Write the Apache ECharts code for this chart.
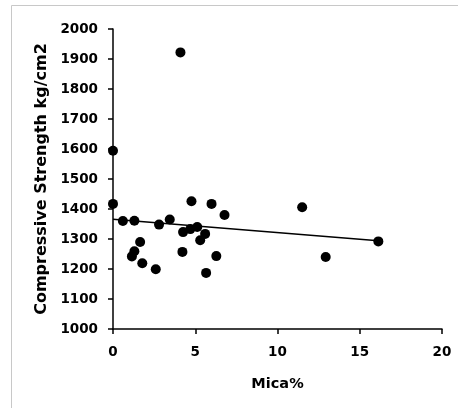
<!DOCTYPE html>
<html>
<head>
<meta charset="utf-8">
<script src="https://cdn.jsdelivr.net/npm/echarts@6/dist/echarts.min.js"></script>
<style>
html,body{margin:0;padding:0;background:#fff;}
#chart{width:458px;height:411px;}
</style>
</head>
<body>
<div id="chart"></div>
<script>
// Mica content (%) and compressive strength (kg/cm2)
var micaPct = [0, 0, 0.6, 1.3, 2.8, 3.45, 1.65, 1.3, 1.15, 1.78, 2.6, 4.1, 4.22, 4.26, 4.7, 5.12, 5.3, 5.6, 4.77, 5.99, 6.28, 6.78, 5.66, 11.5, 12.93, 16.13];
var strength = [1594, 1417, 1360, 1361, 1348, 1365, 1290, 1259, 1242, 1219, 1199, 1922, 1257, 1323, 1333, 1340, 1296, 1317, 1426, 1417, 1243, 1380, 1187, 1406, 1240, 1292];
// Linear trend line end points
var trendX = [0, 16.13];
var trendY = [1366, 1294];
// Axis ranges / ticks
var xTicks = [0, 5, 10, 15, 20];
var yTicks = [1000, 1100, 1200, 1300, 1400, 1500, 1600, 1700, 1800, 1900, 2000];

var points = micaPct.map(function (x, i) { return [x, strength[i]]; });
var trend = trendX.map(function (x, i) { return [x, trendY[i]]; });

var chart = echarts.init(document.getElementById('chart'), null, {renderer: 'canvas'});
var labelFont = {color: '#000', fontFamily: 'DejaVu Sans', fontWeight: 'bold', fontSize: 13.5,
  formatter: function (v) { return String(v); }};
chart.setOption({
  animation: false,
  backgroundColor: '#fff',
  graphic: [{
    type: 'polyline',
    shape: {points: [[11.5, 408], [11.5, 5.5], [458, 5.5]]},
    style: {stroke: '#c8c8c8', lineWidth: 1, fill: null},
    silent: true
  }],
  grid: {left: 113, right: 16, top: 29, bottom: 82, containLabel: false},
  xAxis: {
    type: 'value',
    min: xTicks[0], max: xTicks[xTicks.length - 1], interval: 5,
    name: 'Mica%', nameLocation: 'middle', nameGap: 48,
    nameTextStyle: {color: '#000', fontFamily: 'DejaVu Sans', fontWeight: 'bold', fontSize: 14.5},
    axisLine: {show: true, onZero: false, lineStyle: {color: '#000', width: 1.5}},
    axisTick: {show: true, inside: false, length: 5, lineStyle: {color: '#000', width: 1.5}},
    axisLabel: Object.assign({margin: 16}, labelFont),
    splitLine: {show: false}
  },
  yAxis: {
    type: 'value',
    min: yTicks[0], max: yTicks[yTicks.length - 1], interval: 100,
    name: 'Compressive Strength kg/cm2', nameLocation: 'middle', nameGap: 63,
    nameTextStyle: {color: '#000', fontFamily: 'DejaVu Sans', fontWeight: 'bold', fontSize: 16},
    axisLine: {show: true, onZero: false, lineStyle: {color: '#000', width: 1.5}},
    axisTick: {show: true, inside: false, length: 5, lineStyle: {color: '#000', width: 1.5}},
    axisLabel: Object.assign({margin: 15}, labelFont),
    splitLine: {show: false}
  },
  series: [{
    type: 'line',
    data: trend,
    symbol: 'none',
    lineStyle: {color: '#000', width: 1.5},
    silent: true,
    z: 1
  }, {
    type: 'scatter',
    data: points,
    symbol: 'circle',
    symbolSize: 10,
    itemStyle: {color: '#000', opacity: 1},
    z: 2
  }]
});
</script>
</body>
</html>
